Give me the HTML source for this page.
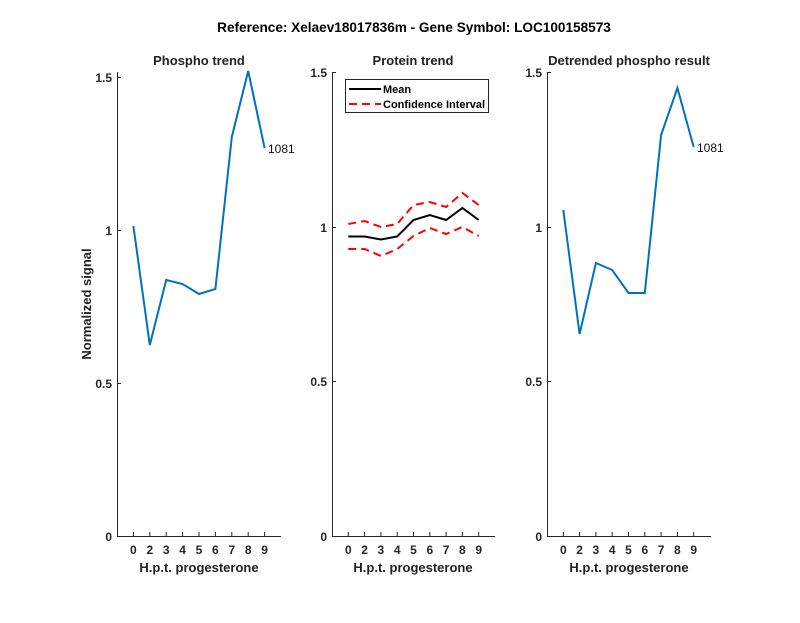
<!DOCTYPE html><html><head><style>body{margin:0;background:#fff}</style></head><body>
<svg width="800" height="618" xmlns="http://www.w3.org/2000/svg" font-family="Liberation Sans, sans-serif">
<rect width="800" height="618" fill="#fff"/>
<text x="414" y="32" font-size="13.6" font-weight="bold" text-anchor="middle">Reference:  Xelaev18017836m - Gene Symbol:  LOC100158573</text>
<g font-size="13" font-weight="bold" text-anchor="middle" fill="#222">
<text x="199" y="65">Phospho trend</text>
<text x="413" y="65">Protein trend</text>
<text x="629" y="65">Detrended phospho result</text>
<text x="199" y="572">H.p.t. progesterone</text>
<text x="413" y="572">H.p.t. progesterone</text>
<text x="629" y="572">H.p.t. progesterone</text>
<text transform="translate(91,304) rotate(-90)">Normalized signal</text>
</g>
<g stroke="#262626" stroke-width="1" fill="none">
<path d="M117.5,72 V536.5 H281"/>
<path d="M332.5,72 V536.5 H495"/>
<path d="M547.5,72 V536.5 H711"/>
</g>
<g stroke="#262626" stroke-width="1">
<path d="M117,536.5h4M117,383.5h4M117,230.5h4M117,77.5h4"/>
<path d="M332,536.5h4M332,381.5h4M332,227.5h4M332,72.5h4"/>
<path d="M547,536.5h4M547,381.5h4M547,227.5h4M547,72.5h4"/>
<path d="M133.4,536v-4M149.8,536v-4M166.2,536v-4M182.6,536v-4M199,536v-4M215.4,536v-4M231.8,536v-4M248.2,536v-4M264.6,536v-4"/>
<path d="M348.3,536v-4M364.6,536v-4M380.9,536v-4M397.2,536v-4M413.5,536v-4M429.8,536v-4M446.1,536v-4M462.4,536v-4M478.7,536v-4"/>
<path d="M563.3,536v-4M579.6,536v-4M595.9,536v-4M612.2,536v-4M628.5,536v-4M644.8,536v-4M661.1,536v-4M677.4,536v-4M693.7,536v-4"/>
</g>
<g font-size="12" font-weight="bold" fill="#262626" text-anchor="end">
<text x="112" y="541">0</text><text x="112" y="388">0.5</text><text x="112" y="235">1</text><text x="112" y="82">1.5</text>
<text x="327" y="541">0</text><text x="327" y="386">0.5</text><text x="327" y="232">1</text><text x="327" y="77">1.5</text>
<text x="542" y="541">0</text><text x="542" y="386">0.5</text><text x="542" y="232">1</text><text x="542" y="77">1.5</text>
</g>
<g font-size="12" font-weight="bold" fill="#262626" text-anchor="middle">
<text x="133.4" y="554">0</text><text x="149.8" y="554">2</text><text x="166.2" y="554">3</text><text x="182.6" y="554">4</text><text x="199" y="554">5</text><text x="215.4" y="554">6</text><text x="231.8" y="554">7</text><text x="248.2" y="554">8</text><text x="264.6" y="554">9</text>
<text x="348.3" y="554">0</text><text x="364.6" y="554">2</text><text x="380.9" y="554">3</text><text x="397.2" y="554">4</text><text x="413.5" y="554">5</text><text x="429.8" y="554">6</text><text x="446.1" y="554">7</text><text x="462.4" y="554">8</text><text x="478.7" y="554">9</text>
<text x="563.3" y="554">0</text><text x="579.6" y="554">2</text><text x="595.9" y="554">3</text><text x="612.2" y="554">4</text><text x="628.5" y="554">5</text><text x="644.8" y="554">6</text><text x="661.1" y="554">7</text><text x="677.4" y="554">8</text><text x="693.7" y="554">9</text>
</g>
<polyline fill="none" stroke="#0072BD" stroke-width="2" points="133.4,226 149.8,345 166.2,280 182.6,284 199,294 215.4,289 231.8,137 248.2,71 264.6,148"/>
<text x="268" y="153" font-size="12" fill="#111">1081</text>
<polyline fill="none" stroke="#f00" stroke-width="2" stroke-dasharray="8,5" points="348.3,224 364.6,221 380.9,227 397.2,224 413.5,205 429.8,202 446.1,207 462.4,193 478.7,205"/>
<polyline fill="none" stroke="#f00" stroke-width="2" stroke-dasharray="8,5" points="348.3,249 364.6,249 380.9,256 397.2,249 413.5,236 429.8,228 446.1,234 462.4,227 478.7,236"/>
<polyline fill="none" stroke="#000" stroke-width="2" points="348.3,236.5 364.6,236.5 380.9,239.5 397.2,236.5 413.5,220 429.8,215 446.1,220 462.4,208 478.7,220"/>
<polyline fill="none" stroke="#0072BD" stroke-width="2" points="563.3,210 579.6,334 595.9,263 612.2,270 628.5,293 644.8,293 661.1,135 677.4,88 693.7,147"/>
<text x="697" y="152" font-size="12" fill="#111">1081</text>
<rect x="345.5" y="79.5" width="143" height="33" fill="#fff" stroke="#262626"/>
<line x1="349" y1="89" x2="381" y2="89" stroke="#000" stroke-width="2"/>
<line x1="349" y1="104" x2="381" y2="104" stroke="#f00" stroke-width="2" stroke-dasharray="8,5"/>
<text x="383" y="93" font-size="11" font-weight="bold">Mean</text>
<text x="383" y="108" font-size="11" font-weight="bold">Confidence Interval</text>
</svg></body></html>
